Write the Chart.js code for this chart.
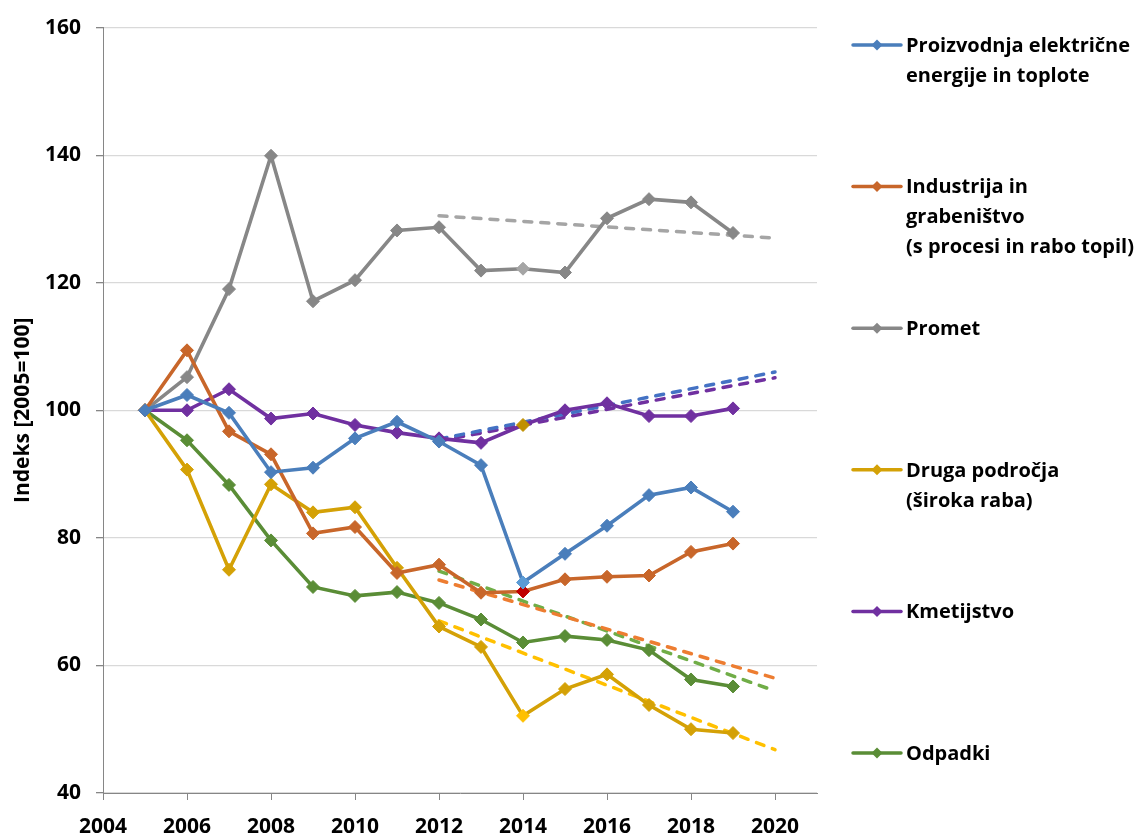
<!DOCTYPE html>
<html>
<head>
<meta charset="utf-8">
<script src="https://cdn.jsdelivr.net/npm/chart.js@4.4.1/dist/chart.umd.min.js"></script>
<style>
  html, body { margin: 0; padding: 0; background: #fff; }
  #wrap { position: relative; width: 1142px; height: 835px; }
</style>
</head>
<body>
<div id="wrap"><canvas id="chart"></canvas></div>
<script>
/* Emisije TGP po sektorjih, indeks 2005=100 */
const years = [2005, 2006, 2007, 2008, 2009, 2010, 2011, 2012, 2013, 2014, 2015, 2016, 2017, 2018, 2019];

const proizvodnja = [100, 102.4, 99.6, 90.3, 91.0, 95.6, 98.2, 95.1, 91.4, 73.0, 77.5, 81.9, 86.7, 87.9, 84.1];
const industrija  = [100, 109.4, 96.7, 93.1, 80.7, 81.7, 74.5, 75.8, 71.4, 71.6, 73.5, 73.9, 74.1, 77.8, 79.1];
const promet      = [100, 105.2, 119.0, 139.9, 117.1, 120.4, 128.2, 128.7, 121.9, 122.2, 121.6, 130.1, 133.1, 132.6, 127.8];
const druga       = [100, 90.7, 75.0, 88.4, 84.0, 84.8, 75.3, 66.1, 62.9, 52.1, 56.3, 58.6, 53.8, 50.0, 49.4];
const kmetijstvo  = [100, 100.0, 103.3, 98.7, 99.5, 97.7, 96.5, 95.6, 94.9, 97.7, 100.0, 101.1, 99.1, 99.1, 100.3];
const odpadki     = [100, 95.3, 88.3, 79.6, 72.3, 70.9, 71.5, 69.8, 67.2, 63.6, 64.6, 64.0, 62.4, 57.8, 56.7];

// linear trends 2012 -> 2020 (end points)
const trendYears      = [2012, 2020];
const trendProizvodnja = [95.5, 106.0];
const trendIndustrija  = [73.4, 58.0];
const trendPromet      = [130.5, 127.0];
const trendDruga       = [67.0, 46.8];
const trendKmetijstvo  = [95.2, 105.1];
const trendOdpadki     = [74.8, 56.0];

const legendLabels = [
  ["Proizvodnja električne", "energije in toplote"],
  ["Industrija in", "grabeništvo", "(s procesi in rabo topil)"],
  ["Promet"],
  ["Druga področja", "(široka raba)"],
  ["Kmetijstvo"],
  ["Odpadki"],
];

const xTicks = [2004, 2006, 2008, 2010, 2012, 2014, 2016, 2018, 2020];
const yTicks = [40, 60, 80, 100, 120, 140, 160];

const FONT = "'Open Sans', sans-serif";

function pts(xs, ys) { return ys.map((v, i) => ({ x: xs[i], y: v })); }

// one marker per series is drawn in another colour in the source (2014)
function markers(base, odd) {
  return years.map(y => (y === 2014 && odd ? odd : base));
}

function series(i, data, color, odd) {
  return {
    label: legendLabels[i].join(" "),
    data: pts(years, data),
    borderColor: color,
    backgroundColor: color,
    borderWidth: 3.6,
    pointStyle: "rectRot",
    pointRadius: 6.5,
    pointBackgroundColor: markers(color, odd),
    pointBorderColor: markers(color, odd),
    pointBorderWidth: 1,
    tension: 0,
  };
}

function trend(data, color) {
  return {
    label: "",
    data: pts(trendYears, data),
    borderColor: color,
    borderWidth: 3.5,
    borderDash: [8, 9],
    borderCapStyle: "round",
    pointRadius: 0,
    tension: 0,
  };
}

const sideLegend = {
  id: "sideLegend",
  afterDraw(chart) {
    const ctx = chart.ctx;
    ctx.save();
    ctx.font = "bold 20px " + FONT;
    ctx.textBaseline = "middle";
    legendLabels.forEach((lines, i) => {
      const ds = chart.data.datasets[i];
      const y = 45 + i * 141.6;
      ctx.strokeStyle = ds.borderColor;
      ctx.lineWidth = 3.5;
      ctx.lineCap = "round";
      ctx.beginPath();
      ctx.moveTo(853, y);
      ctx.lineTo(901, y);
      ctx.stroke();
      ctx.fillStyle = ds.borderColor;
      ctx.beginPath();
      ctx.moveTo(877, y - 5.5);
      ctx.lineTo(882.5, y);
      ctx.lineTo(877, y + 5.5);
      ctx.lineTo(871.5, y);
      ctx.closePath();
      ctx.fill();
      ctx.fillStyle = "#000";
      lines.forEach((t, j) => ctx.fillText(t, 906, y + 1 + j * 30));
    });
    ctx.restore();
  },
};

new Chart(document.getElementById("chart"), {
  type: "line",
  data: {
    datasets: [
      series(0, proizvodnja, "#4a7ebb", "#5b9bd5"),
      series(1, industrija, "#c8662a", "#c00000"),
      series(2, promet, "#878787", "#a5a5a5"),
      series(3, druga, "#d4a106", "#ffc000"),
      series(4, kmetijstvo, "#7030a0", "#c09000"),
      series(5, odpadki, "#5a8d36"),
      trend(trendProizvodnja, "#4472c4"),
      trend(trendIndustrija, "#ed7d31"),
      trend(trendPromet, "#a5a5a5"),
      trend(trendDruga, "#ffc000"),
      trend(trendKmetijstvo, "#7030a0"),
      trend(trendOdpadki, "#70ad47"),
    ],
  },
  options: {
    responsive: true,
    maintainAspectRatio: false,
    animation: false,
    layout: { padding: { top: 21, right: 325, bottom: 0, left: 0 } },
    plugins: { legend: { display: false }, tooltip: { enabled: false } },
    scales: {
      x: {
        type: "linear",
        min: 2004,
        max: 2021,
        afterBuildTicks: s => { s.ticks = xTicks.map(v => ({ value: v })); },
        afterFit: s => { s.height = 42; },
        ticks: { color: "#000", padding: 14, font: { family: FONT, size: 21, weight: "bold" }, callback: v => String(v) },
        grid: { drawOnChartArea: false, drawTicks: true, tickLength: 7, color: "#868686" },
        border: { color: "#868686", width: 1 },
      },
      y: {
        min: 40,
        max: 160,
        afterBuildTicks: s => { s.ticks = yTicks.map(v => ({ value: v })); },
        afterFit: s => { s.width = 103; },
        ticks: { color: "#000", padding: 15, font: { family: FONT, size: 21, weight: "bold" } },
        grid: { color: "#d9d9d9", lineWidth: 1.3, tickColor: "#868686", tickLength: 7 },
        border: { color: "#868686", width: 1 },
        title: { display: true, text: "Indeks [2005=100]", color: "#000", padding: { top: 10, bottom: 0 }, font: { family: FONT, size: 21, weight: "bold" } },
      },
    },
  },
  plugins: [sideLegend],
});
</script>
</body>
</html>
